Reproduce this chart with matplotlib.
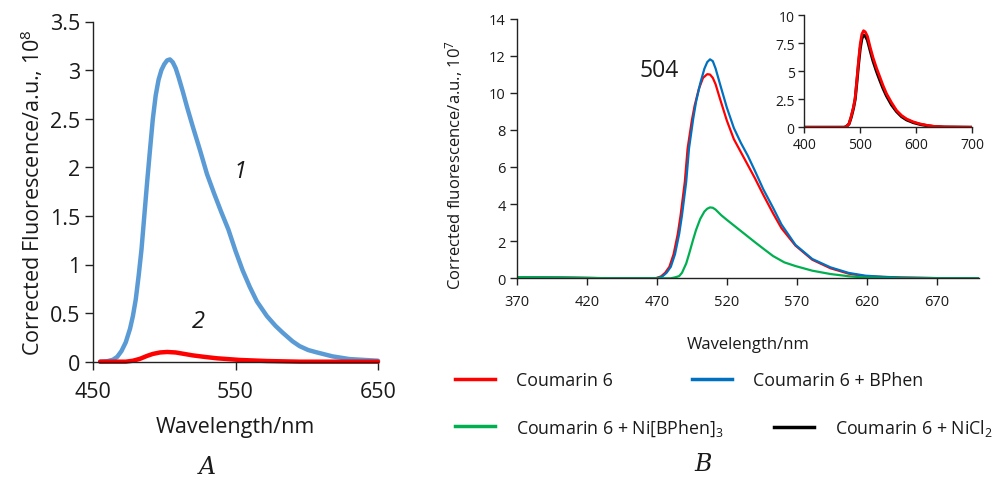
import matplotlib
matplotlib.use("Agg")
import matplotlib.pyplot as plt
from matplotlib.lines import Line2D

plt.rcParams['font.family'] = ['Open Sans', 'DejaVu Sans']
plt.rcParams['mathtext.fontset'] = 'custom'
plt.rcParams['mathtext.rm'] = 'Open Sans'
plt.rcParams['mathtext.it'] = 'Open Sans:italic'
plt.rcParams['mathtext.bf'] = 'Open Sans:bold'

TXT = '#1a1a1a'

# ---------------- Panel A data ----------------
a_wl_1 = [455, 460, 464, 467, 470, 473, 476, 478, 480, 482, 484, 486, 488, 490, 492, 494, 496, 498, 500, 502,
          504, 506, 508, 510, 513, 516, 520, 525, 530, 535, 540, 545, 550, 555, 560, 565, 572, 578, 583, 590,
          595, 601, 607, 618, 630, 650]
a_val_1 = [0.0, 0.005, 0.02, 0.05, 0.11, 0.2, 0.34, 0.47, 0.64, 0.88, 1.15, 1.5, 1.85, 2.18, 2.5, 2.74, 2.9, 3.0,
           3.06, 3.10, 3.11, 3.08, 3.02, 2.93, 2.78, 2.62, 2.42, 2.18, 1.93, 1.73, 1.54, 1.36, 1.14, 0.94, 0.77,
           0.62, 0.47, 0.37, 0.30, 0.21, 0.16, 0.12, 0.096, 0.055, 0.027, 0.01]
a_wl_2 = [455, 473, 478, 483, 488, 492, 497, 502, 508, 514, 520, 528, 537, 553, 572, 595, 650]
a_val_2 = [0.0, 0.0, 0.01, 0.03, 0.06, 0.08, 0.095, 0.10, 0.095, 0.08, 0.065, 0.05, 0.035, 0.018, 0.007, 0.0, 0.0]

# ---------------- Panel B data ----------------
b_wl_blue = [370, 400, 420, 440, 470, 474, 477, 480, 483, 486, 488, 491, 493, 496, 498, 501, 504, 506, 508, 510,
             512, 515, 520, 525, 530, 535, 540, 546, 553, 559, 569, 581, 594, 607, 619, 632, 645, 670, 700]
b_val_blue = [0.06, 0.04, 0.02, 0.0, 0.0, 0.1, 0.3, 0.62, 1.3, 2.4, 3.4, 5.2, 7.0, 8.6, 9.5, 10.5, 11.3, 11.65, 11.8, 11.7,
              11.3, 10.5, 9.2, 8.1, 7.3, 6.6, 5.8, 4.8, 3.8, 2.9, 1.8, 1.04, 0.59, 0.29, 0.14, 0.08, 0.04, 0.01, 0.0]
b_wl_red = [370, 400, 420, 440, 469, 473, 476, 479, 482, 485, 487, 490, 492, 495, 497, 500, 503, 506, 508, 510,
            512, 515, 520, 525, 530, 535, 540, 546, 553, 559, 569, 581, 594, 607, 619, 632, 645, 670, 700]
b_val_red = [0.06, 0.04, 0.02, 0.0, 0.0, 0.1, 0.3, 0.62, 1.3, 2.4, 3.4, 5.2, 7.0, 8.5, 9.3, 10.2, 10.8, 11.0, 10.98, 10.8,
             10.45, 9.7, 8.5, 7.5, 6.8, 6.1, 5.4, 4.5, 3.5, 2.7, 1.76, 1.0, 0.54, 0.25, 0.11, 0.07, 0.04, 0.01, 0.0]
b_wl_green = [370, 400, 420, 440, 480, 483, 486, 488, 491, 493, 496, 498, 501, 504, 506, 508, 510, 512, 514,
              516, 520, 525, 530, 535, 540, 546, 553, 561, 569, 581, 594, 607, 619, 632, 650, 700]
b_val_green = [0.06, 0.04, 0.02, 0.0, 0.0, 0.05, 0.12, 0.3, 0.8, 1.3, 2.1, 2.6, 3.2, 3.6, 3.75, 3.82, 3.8, 3.7, 3.55,
               3.4, 3.15, 2.85, 2.55, 2.25, 1.95, 1.6, 1.2, 0.86, 0.66, 0.41, 0.23, 0.11, 0.04, 0.02, 0.0, 0.0]

# ---------------- Inset data ----------------
i_wl_red = [400, 450, 472, 476, 480, 484, 488, 491, 494, 497, 500, 503, 506, 509, 513, 518, 523, 529, 535, 541, 547,
            556, 565, 574, 583, 595, 607, 620, 631, 650, 700]
i_val_red = [0.0, 0.0, 0.0, 0.1, 0.3, 1.0, 1.8, 2.6, 4.2, 5.9, 7.4, 8.3, 8.6, 8.5, 8.1, 7.1, 6.2, 5.3, 4.5, 3.7, 3.0,
             2.2, 1.5, 1.05, 0.74, 0.48, 0.3, 0.17, 0.09, 0.03, 0.0]
i_wl_blk = [400, 450, 472, 476, 480, 484, 488, 491, 494, 497, 500, 503, 506, 509, 513, 518, 523, 529, 535, 541, 547,
            556, 565, 574, 583, 595, 607, 620, 631, 650, 700]
i_val_blk = [0.0, 0.0, 0.0, 0.1, 0.3, 0.9, 1.7, 2.5, 4.0, 5.6, 7.0, 7.9, 8.2, 8.15, 7.75, 6.8, 5.9, 5.0, 4.2, 3.45, 2.8,
             2.0, 1.4, 0.95, 0.66, 0.42, 0.26, 0.14, 0.07, 0.02, 0.0]

a_xticks = [450, 550, 650]
a_yticks = [0, 0.5, 1, 1.5, 2, 2.5, 3, 3.5]
a_yticklabels = ['0', '0.5', '1', '1.5', '2', '2.5', '3', '3.5']
b_xticks = [370, 420, 470, 520, 570, 620, 670]
b_yticks = [0, 2, 4, 6, 8, 10, 12, 14]
i_xticks = [400, 500, 600, 700]
i_yticks = [0, 2.5, 5, 7.5, 10]
i_yticklabels = ['0', '2.5', '5', '7.5', '10']

legend_labels = ['Coumarin 6', 'Coumarin 6 + BPhen',
                 'Coumarin 6 + Ni[BPhen]$_3$', 'Coumarin 6 + NiCl$_2$']
legend_colors = ['#ff0000', '#0070c0', '#00b050', '#000000']

W, H = 998, 481
fig = plt.figure(figsize=(W / 100, H / 100), dpi=100)

def px_axes(x0, y0, x1, y1):
    return fig.add_axes([x0 / W, 1 - y1 / H, (x1 - x0) / W, (y1 - y0) / H])

def style(ax, fs, tl=5):
    for s in ['top', 'right']:
        ax.spines[s].set_visible(False)
    for s in ['left', 'bottom']:
        ax.spines[s].set_color('#222222')
        ax.spines[s].set_linewidth(1.0)
    ax.tick_params(direction='out', length=tl, width=1.0, color='#222222',
                   labelsize=fs, labelcolor=TXT, pad=3)

# ---------------- Panel A ----------------
axA = px_axes(93, 22.5, 378, 362.7)
axA.plot(a_wl_1, a_val_1, color='#5b9bd5', lw=3.2, solid_capstyle='round',
         solid_joinstyle='round', clip_on=False)
axA.plot(a_wl_2, a_val_2, color='#ff0000', lw=3.2, solid_capstyle='round',
         solid_joinstyle='round', clip_on=False)
axA.set_xlim(450, 650)
axA.set_ylim(0, 3.5)
axA.set_xticks(a_xticks)
axA.set_yticks(a_yticks)
axA.set_yticklabels(a_yticklabels)
style(axA, 15.5, tl=6)
axA.tick_params(axis='x', pad=8)
axA.set_xlabel('Wavelength/nm', fontsize=15.5, color=TXT, labelpad=10)
axA.set_ylabel('Corrected Fluorescence/a.u., 10$^8$', fontsize=15.5, color=TXT, labelpad=4)
axA.text(553, 1.96, '1', fontsize=17, style='italic', color=TXT, ha='center', va='center')
axA.text(523.7, 0.42, '2', fontsize=17, style='italic', color=TXT, ha='center', va='center')
fig.text(207 / W, 1 - 468 / H, 'A', fontsize=17, family='DejaVu Serif', style='italic',
         color=TXT, ha='center', va='center')

# ---------------- Panel B ----------------
axB = px_axes(516.7, 19.5, 979, 279.3)
axB.plot(b_wl_red, b_val_red, color=legend_colors[0], lw=1.6, solid_joinstyle='round')
axB.plot(b_wl_blue, b_val_blue, color=legend_colors[1], lw=1.6, solid_joinstyle='round')
axB.plot(b_wl_green, b_val_green, color=legend_colors[2], lw=1.6, solid_joinstyle='round')
axB.set_xlim(370, 700)
axB.set_ylim(0, 14)
axB.set_xticks(b_xticks)
axB.set_yticks(b_yticks)
style(axB, 10.5, tl=5)
axB.tick_params(axis='x', pad=6)
axB.set_xlabel('Wavelength/nm', fontsize=12, color=TXT, labelpad=20)
axB.set_ylabel('Corrected fluorescence/a.u., 10$^7$', fontsize=12, color=TXT)
axB.yaxis.set_label_coords((465 - 516.7) / (979 - 516.7), (279.3 - 165) / (279.3 - 19.5))
axB.text(471.6, 11.25, '504', fontsize=16.5, color=TXT, ha='center', va='center')
fig.text(703 / W, 1 - 465 / H, 'B', fontsize=17, family='DejaVu Serif', style='italic',
         color=TXT, ha='center', va='center')

# ---------------- Inset ----------------
axI = px_axes(804.3, 16, 972, 128.3)
axI.plot(i_wl_blk, i_val_blk, color='#000000', lw=2.2, solid_joinstyle='round')
axI.plot(i_wl_red, i_val_red, color='#ff0000', lw=2.0, solid_joinstyle='round')
axI.set_xlim(400, 700)
axI.set_ylim(0, 10)
axI.set_xticks(i_xticks)
axI.set_yticks(i_yticks)
axI.set_yticklabels(i_yticklabels)
style(axI, 10, tl=4)
axI.set_facecolor('none')

# ---------------- Legend (four single entries) ----------------
legend_pos = [(455, 381), (692, 381), (455, 428.5), (774, 428.5)]
for lab, col, (px, py) in zip(legend_labels, legend_colors, legend_pos):
    fig.legend([Line2D([], [], color=col, lw=2.5)], [lab], frameon=False, fontsize=12.8,
               handlelength=2.25, handletextpad=1.2, borderpad=0, borderaxespad=0,
               labelcolor=TXT, loc='center left', bbox_to_anchor=(px / W, 1 - py / H))

fig.savefig('out.png', dpi=100)
